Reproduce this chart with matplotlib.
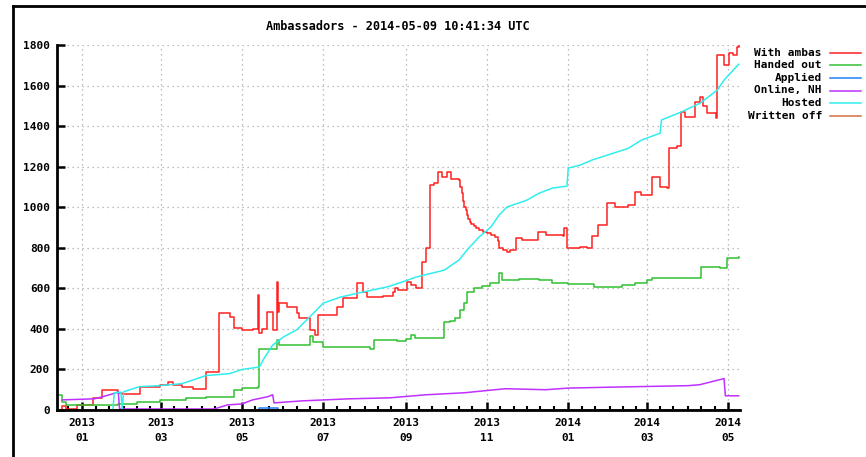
import pandas as pd
import matplotlib
matplotlib.use('Agg')
import matplotlib.pyplot as plt
import matplotlib.dates as mdates
from matplotlib.lines import Line2D

title = 'Ambassadors - 2014-05-09 10:41:34 UTC'

ambas_dates = ['2012-12-15', '2012-12-17', '2012-12-20', '2012-12-28', '2013-01-09', '2013-01-16',
               '2013-01-28', '2013-01-31', '2013-02-13', '2013-02-28', '2013-03-06', '2013-03-10',
               '2013-03-17', '2013-03-25', '2013-04-04', '2013-04-14', '2013-04-22', '2013-04-25',
               '2013-05-01', '2013-05-09', '2013-05-13', '2013-05-14', '2013-05-16', '2013-05-20',
               '2013-05-24', '2013-05-27', '2013-05-28', '2013-05-29', '2013-06-04', '2013-06-11',
               '2013-06-13', '2013-06-21', '2013-06-25', '2013-06-27', '2013-07-05', '2013-07-11',
               '2013-07-16', '2013-07-26', '2013-07-31', '2013-08-03', '2013-08-15', '2013-08-22',
               '2013-08-24', '2013-08-26', '2013-09-02', '2013-09-05', '2013-09-09', '2013-09-13',
               '2013-09-16', '2013-09-19', '2013-09-22', '2013-09-25', '2013-09-28', '2013-10-02',
               '2013-10-05', '2013-10-11', '2013-10-12', '2013-10-13', '2013-10-14', '2013-10-15',
               '2013-10-16', '2013-10-17', '2013-10-18', '2013-10-19', '2013-10-20', '2013-10-22',
               '2013-10-24', '2013-10-26', '2013-10-29', '2013-11-01', '2013-11-04', '2013-11-07',
               '2013-11-09', '2013-11-10', '2013-11-13', '2013-11-16', '2013-11-18', '2013-11-23',
               '2013-11-27', '2013-12-09', '2013-12-15', '2013-12-28', '2013-12-29', '2013-12-31',
               '2014-01-10', '2014-01-15', '2014-01-19', '2014-01-23', '2014-01-30', '2014-02-05',
               '2014-02-15', '2014-02-20', '2014-02-25', '2014-03-05', '2014-03-11', '2014-03-16',
               '2014-03-18', '2014-03-24', '2014-03-27', '2014-03-30', '2014-04-06', '2014-04-10',
               '2014-04-12', '2014-04-15', '2014-04-22', '2014-04-23', '2014-04-28', '2014-05-02',
               '2014-05-05', '2014-05-08', '2014-05-09']
ambas_vals = [0, 20, 5, 25, 60, 100,
              85, 80, 115, 125, 140, 125,
              115, 105, 185, 478, 460, 405,
              395, 400, 565, 380, 400, 483,
              395, 631, 483, 527, 510, 478,
              453, 394, 370, 468, 470, 508,
              553, 625, 582, 557, 560, 582,
              600, 590, 630, 615, 600, 730,
              800, 1110, 1120, 1175, 1150, 1175,
              1140, 1135, 1100, 1070, 1030, 1000,
              985, 960, 940, 925, 915, 905,
              897, 890, 880, 873, 865, 853,
              835, 800, 790, 780, 790, 850,
              840, 877, 865, 860, 900, 800,
              805, 800, 860, 910, 1020, 1000,
              1010, 1075, 1060, 1150, 1100, 1095,
              1290, 1300, 1470, 1445, 1520, 1545,
              1500, 1465, 1440, 1750, 1700, 1760,
              1750, 1790, 1800]

handed_dates = ['2012-12-13', '2012-12-17', '2012-12-20', '2013-01-10', '2013-01-28', '2013-02-11',
                '2013-02-28', '2013-03-20', '2013-04-04', '2013-04-25', '2013-05-01', '2013-05-13',
                '2013-05-14', '2013-05-24', '2013-05-27', '2013-05-29', '2013-06-20', '2013-06-21',
                '2013-06-23', '2013-07-01', '2013-08-05', '2013-08-08', '2013-08-25', '2013-09-01',
                '2013-09-05', '2013-09-08', '2013-09-28', '2013-09-30', '2013-10-04', '2013-10-08',
                '2013-10-12', '2013-10-15', '2013-10-17', '2013-10-22', '2013-10-28', '2013-11-03',
                '2013-11-10', '2013-11-12', '2013-11-25', '2013-12-10', '2013-12-20', '2014-01-01',
                '2014-01-20', '2014-02-10', '2014-02-20', '2014-03-01', '2014-03-05', '2014-04-10',
                '2014-04-11', '2014-04-25', '2014-04-30', '2014-05-09']
handed_vals = [75, 40, 25, 25, 30, 40,
               50, 60, 65, 100, 110, 113,
               300, 300, 345, 320, 320, 365,
               335, 310, 300, 345, 340, 350,
               370, 355, 355, 433, 440, 453,
               493, 530, 582, 600, 610, 626,
               675, 640, 645, 640, 628, 620,
               606, 616, 625, 640, 650, 650,
               705, 700, 750, 755]

applied_dates = ['2013-01-24', '2013-05-14', '2013-05-28', '2014-05-09']
applied_vals = [0, 10, 0, 0]

online_dates = ['2012-12-17', '2013-01-10', '2013-01-16', '2013-01-24', '2013-01-28', '2013-01-29',
                '2013-04-10', '2013-04-20', '2013-05-01', '2013-05-09', '2013-05-20', '2013-05-24',
                '2013-05-25', '2013-06-15', '2013-07-20', '2013-08-20', '2013-09-16', '2013-10-15',
                '2013-11-07', '2013-11-15', '2013-12-15', '2014-01-01', '2014-02-05', '2014-04-01',
                '2014-04-10', '2014-04-28', '2014-04-29', '2014-05-09']
online_vals = [50, 55, 65, 80, 90, 5,
               5, 25, 30, 50, 65, 75,
               35, 45, 55, 60, 75, 85,
               100, 105, 100, 108, 113, 120,
               125, 155, 70, 70]

hosted_dates = ['2013-01-24', '2013-01-25', '2013-01-30', '2013-01-31', '2013-02-01', '2013-02-13',
                '2013-02-28', '2013-03-17', '2013-04-04', '2013-04-14', '2013-04-22', '2013-05-01',
                '2013-05-14', '2013-05-18', '2013-05-24', '2013-06-01', '2013-06-11', '2013-06-21',
                '2013-07-01', '2013-07-14', '2013-07-31', '2013-08-18', '2013-08-27', '2013-09-09',
                '2013-09-30', '2013-10-11', '2013-10-17', '2013-10-26', '2013-11-04', '2013-11-10',
                '2013-11-16', '2013-12-01', '2013-12-10', '2013-12-20', '2013-12-31', '2014-01-01',
                '2014-01-10', '2014-01-19', '2014-02-15', '2014-02-25', '2014-03-11', '2014-03-12',
                '2014-03-27', '2014-04-10', '2014-04-23', '2014-04-28', '2014-05-09']
hosted_vals = [0, 85, 88, 0, 90, 115,
               120, 130, 170, 175, 180, 200,
               212, 260, 320, 360, 395, 460,
               527, 557, 582, 607, 626, 656,
               690, 740, 789, 853, 903, 961,
               1001, 1035, 1069, 1094, 1104, 1193,
               1208, 1233, 1290, 1331, 1365, 1430,
               1470, 1513, 1578, 1627, 1705]

written_dates = ['2012-12-13', '2014-05-09']
written_vals = [0, 0]

labels = ['With ambas', 'Handed out', 'Applied', 'Online, NH', 'Hosted', 'Written off']
colors = ['#ff2020', '#30c030', '#2080ff', '#c030ff', '#30eeee', '#d07040']
styles = ['steps-post', 'steps-post', 'steps-post', 'default', 'default', 'default']

series = [(ambas_dates, ambas_vals), (handed_dates, handed_vals), (applied_dates, applied_vals),
          (online_dates, online_vals), (hosted_dates, hosted_vals), (written_dates, written_vals)]

mono = 'DejaVu Sans Mono'

fig = plt.figure(figsize=(8.66, 4.57), dpi=100)
ax = fig.add_axes([57 / 866, 1 - 410 / 457, (740 - 57) / 866, (410 - 45) / 457])

for (d, v), lab, c, st in zip(series, labels, colors, styles):
    ax.plot(pd.to_datetime(d), v, color=c, lw=1.1, drawstyle=st, label=lab)

ax.set_xlim(pd.Timestamp('2012-12-13'), pd.Timestamp('2014-05-10'))
ax.set_ylim(0, 1800)
ax.set_yticks(range(0, 1801, 200))
ax.xaxis.set_major_locator(mdates.MonthLocator(bymonth=[1, 3, 5, 7, 9, 11]))
ax.xaxis.set_major_formatter(mdates.DateFormatter('%Y\n%m'))
ax.xaxis.set_minor_locator(mdates.DayLocator(bymonthday=[1, 11, 21]))

for s in ['top', 'right']:
    ax.spines[s].set_visible(False)
for s in ['left', 'bottom']:
    ax.spines[s].set_linewidth(2)
    ax.spines[s].set_zorder(5)

ax.tick_params(axis='both', which='major', direction='in', length=6, width=1.8, pad=6)
ax.tick_params(axis='x', which='minor', direction='in', length=3, width=1.5)
ax.tick_params(axis='y', which='major', pad=5)
for t in ax.get_xticklabels() + ax.get_yticklabels():
    t.set_fontfamily(mono)
    t.set_fontweight('bold')
    t.set_fontsize(8)
for t in ax.get_xticklabels():
    t.set_linespacing(1.6)

ax.grid(True, which='major', color='#a8a8a8', linestyle=(0, (1, 3)), linewidth=0.9)

fig.text(398 / 866, 1 - 27 / 457, title, ha='center', va='center',
         family=mono, fontsize=8.6, fontweight='bold')

# legend, gnuplot style: text right aligned, sample line after it
leg_y = [52.5, 65, 77.5, 90.5, 103, 116]
for lab, c, yy in zip(labels, colors, leg_y):
    yf = 1 - yy / 457
    fig.text(822 / 866, yf, lab, ha='right', va='center', family=mono, fontsize=8, fontweight='bold')
    fig.add_artist(Line2D([830 / 866, 861 / 866], [yf, yf], color=c, lw=1.1))

# border of the screenshot window
fig.add_artist(Line2D([13 / 866, 1], [1 - 6 / 457, 1 - 6 / 457], color='black', lw=2))
fig.add_artist(Line2D([13 / 866, 13 / 866], [0, 1 - 6 / 457], color='black', lw=2))

fig.savefig('out.png', dpi=100)
